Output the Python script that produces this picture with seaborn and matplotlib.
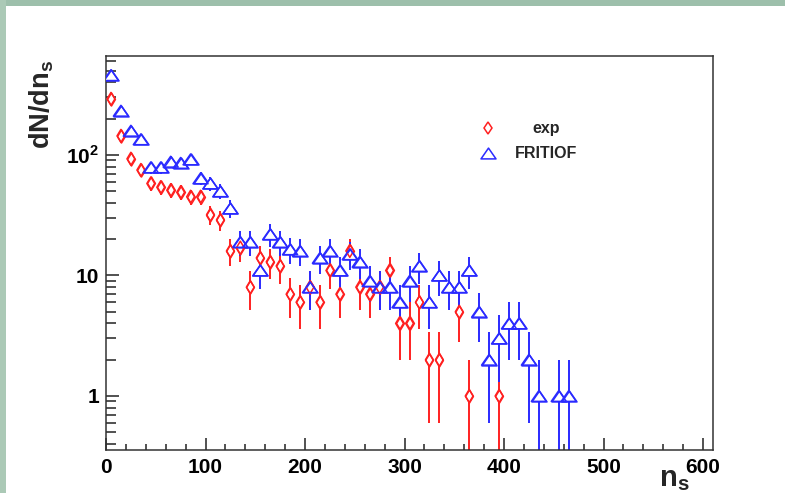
import numpy as np
import matplotlib
matplotlib.use('Agg')
import matplotlib.pyplot as plt
import seaborn as sns
from matplotlib.path import Path
from matplotlib.patches import Rectangle
from matplotlib.ticker import FixedLocator, MultipleLocator, LogLocator, NullFormatter

sns.set_theme(style='ticks')
plt.rcParams['font.family'] = ['Liberation Sans', 'DejaVu Sans']
plt.rcParams['font.weight'] = 'bold'
plt.rcParams['mathtext.fontset'] = 'custom'
plt.rcParams['mathtext.rm'] = 'Liberation Sans:bold'
plt.rcParams['mathtext.bf'] = 'Liberation Sans:bold'

# exp data (bin centres, dN/dn_s, error)
exp_ns = [5, 15, 25, 35, 45, 55, 65, 75, 85, 95, 105, 115, 125, 135, 145, 155,
          165, 175, 185, 195, 205, 215, 225, 235, 245, 255, 265, 275, 285, 295,
          305, 315, 325, 335, 355, 365, 395]
exp_dn = [292, 144, 93, 75, 58, 54, 51, 49, 45, 45, 32, 29, 16, 17, 8, 14,
          13, 12, 7, 6, 8, 6, 11, 7, 16, 8, 7, 8, 11, 4,
          4, 6, 2, 2, 5, 1, 1]
exp_err = [17.1, 12.0, 9.6, 8.7, 7.6, 7.3, 7.1, 7.0, 6.7, 6.7, 5.7, 5.4, 4.0, 4.1, 2.8, 3.7,
           3.6, 3.5, 2.6, 2.4, 2.8, 2.4, 3.3, 2.6, 4.0, 2.8, 2.6, 2.8, 3.3, 2.0,
           2.0, 2.4, 1.4, 1.4, 2.2, 1.0, 1.0]

# FRITIOF data
frit_ns = [5, 15, 25, 35, 45, 55, 65, 75, 85, 95, 105, 115, 125, 135, 145, 155,
           165, 175, 185, 195, 205, 215, 225, 235, 245, 255, 265, 275, 285, 295,
           305, 315, 325, 335, 345, 355, 365, 375, 385, 395, 405, 415, 425, 435,
           455, 465]
frit_dn = [460, 233, 159, 135, 79, 79, 88, 86, 92, 64, 58, 50, 36, 19, 19, 11,
           22, 19, 16.5, 16, 8, 14, 16, 11, 15, 13, 9, 8, 8, 6,
           9, 12, 6, 10, 8, 8, 11, 5, 2, 3, 4, 4, 2, 1,
           1, 1]
frit_err = [21.4, 15.3, 12.6, 11.6, 8.9, 8.9, 9.4, 9.3, 9.6, 8.0, 7.6, 7.1, 6.0, 4.4, 4.4, 3.3,
            4.7, 4.4, 4.1, 4.0, 2.8, 3.7, 4.0, 3.3, 3.9, 3.6, 3.0, 2.8, 2.8, 2.4,
            3.0, 3.5, 2.4, 3.2, 2.8, 2.8, 3.3, 2.2, 1.4, 1.7, 2.0, 2.0, 1.4, 1.0,
            1.0, 1.0]

RED = '#ff2020'
BLUE = '#2a2aff'
W, H = 785, 493

# open triangle, wider than tall (ROOT style)
tri = Path([(-1, -0.72), (1, -0.72), (0, 0.72), (-1, -0.72)],
           [Path.MOVETO, Path.LINETO, Path.LINETO, Path.CLOSEPOLY])

fig = plt.figure(figsize=(W / 100, H / 100), dpi=100)
fig.patch.set_facecolor('white')
# slide border strips
fig.add_artist(Rectangle((0, 1 - 6 / H), 1, 6 / H, transform=fig.transFigure,
                         fc='#9dbfab', ec='none'))
fig.add_artist(Rectangle((0, 0), 6 / W, 1, transform=fig.transFigure,
                         fc='#abc9b6', ec='none'))

ax = fig.add_axes([106 / W, 43 / H, 607 / W, 394 / H])
ax.set_facecolor('white')
ax.set_yscale('log')

# error bars
ax.errorbar(exp_ns, exp_dn, yerr=exp_err, fmt='none', ecolor=RED, elinewidth=1.4, capsize=0, zorder=2)
ax.errorbar(frit_ns, frit_dn, yerr=frit_err, fmt='none', ecolor=BLUE, elinewidth=1.4, capsize=0, zorder=2)

# markers: white fill first (hides bar inside), then outlines on top
for face, z in [('white', 3), ('none', 4)]:
    sns.scatterplot(x=exp_ns, y=exp_dn, marker='d', s=44, color=RED, facecolor=face,
                    edgecolor=RED, linewidth=1.1, ax=ax, zorder=z)
    sns.scatterplot(x=frit_ns, y=frit_dn, marker=tri, s=117, color=BLUE, facecolor=face,
                    edgecolor=BLUE, linewidth=1.1, ax=ax, zorder=z)

ax.set_xlim(0, 610)
ax.set_ylim(0.356, 663)

ax.xaxis.set_major_locator(MultipleLocator(100))
ax.xaxis.set_minor_locator(MultipleLocator(20))
ax.yaxis.set_major_locator(FixedLocator([1, 10, 100]))
ax.yaxis.set_minor_locator(LogLocator(base=10, subs=np.arange(2, 10)))
ax.yaxis.set_minor_formatter(NullFormatter())
ax.set_yticklabels(['1', '10', r'10$^{\mathbf{2}}$'])

ax.tick_params(axis='both', which='both', direction='in', top=False, right=False,
               colors='#222222', labelcolor='black', labelsize=15, width=1.1)
ax.tick_params(axis='x', which='major', length=9, pad=5.5)
ax.tick_params(axis='x', which='minor', length=4.5)
ax.tick_params(axis='y', which='major', length=9.5, pad=5)
ax.tick_params(axis='y', which='minor', length=7)
for sp in ax.spines.values():
    sp.set_visible(True)
    sp.set_color('#333333')
    sp.set_linewidth(1.1)

ax.set_xlabel('')
ax.set_ylabel('')

# axis titles, ROOT style
fig.text(42 / W, 1 - 60 / H, r'dN/dn$_{\mathbf{s}}$', rotation=90, ha='center', va='top',
         fontsize=19.5, fontweight='bold')
fig.text(690 / W, 1 - 486 / H, r'n$_{\mathbf{s}}$', ha='right', va='baseline',
         fontsize=21, fontweight='bold')

# legend
lx, tx = (488 - 106) / 607, (546 - 106) / 607
ly1, ly2 = (450 - 128) / 394, (450 - 153) / 394
ax.plot([lx], [ly1], marker='d', ms=6.6, mfc='white', mec=RED, mew=1.1, transform=ax.transAxes)
ax.plot([lx], [ly2], marker=tri, ms=10.8, mfc='white', mec=BLUE, mew=1.1, transform=ax.transAxes)
ax.text(tx, ly1, 'exp', transform=ax.transAxes, ha='center', va='center', fontsize=11.5, fontweight='bold')
ax.text(tx, ly2, 'FRITIOF', transform=ax.transAxes, ha='center', va='center', fontsize=11.5, fontweight='bold')

fig.savefig('out.png', dpi=100)
